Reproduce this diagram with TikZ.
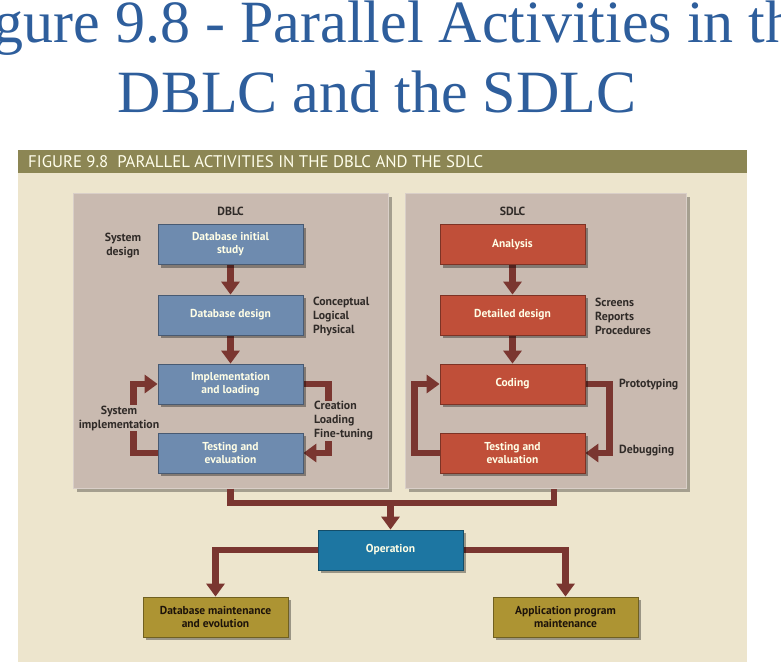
\documentclass[tikz,border=0pt]{standalone}
\usepackage{fontspec}
\setmainfont{Liberation Serif}
\setsansfont{PT Sans}
\usepackage{xcolor}
\usetikzlibrary{arrows.meta,shadows}

\definecolor{titleblue}{HTML}{2E5E9C}
\definecolor{barolive}{HTML}{8C8654}
\definecolor{cream}{HTML}{EDE5CD}
\definecolor{panelgray}{HTML}{C9BAB0}
\definecolor{dbblue}{HTML}{6E8BAF}
\definecolor{sdred}{HTML}{C04F39}
\definecolor{opteal}{HTML}{1D76A2}
\definecolor{mtgold}{HTML}{AD9433}
\definecolor{flowred}{HTML}{7A3630}
\definecolor{notegray}{HTML}{302B28}

\pgfdeclarelayer{bg}
\pgfdeclarelayer{mid}
\pgfsetlayers{bg,mid,main}

\tikzset{
  panel/.style={fill=panelgray, draw=panelgray!70!white, line width=1pt,
    drop shadow={shadow xshift=4pt, shadow yshift=-4pt, fill=black, opacity=.3}},
  box/.style={minimum width=145, minimum height=40, align=center, inner sep=2pt,
    font=\sffamily\bfseries\fontsize{11.5}{13}\selectfont, text=white!90!yellow,
    line width=.8pt,
    drop shadow={shadow xshift=3pt, shadow yshift=-3pt, fill=black, opacity=.35}},
  dbbox/.style={box, fill=dbblue, draw=dbblue!65!black},
  sdbox/.style={box, fill=sdred, draw=sdred!65!black},
  opbox/.style={box, fill=opteal, draw=opteal!65!black},
  mtbox/.style={box, fill=mtgold, draw=mtgold!65!black, text=black!85!brown},
  note/.style={font=\sffamily\bfseries\fontsize{11.8}{14}\selectfont, text=notegray, inner sep=0pt},
  link/.style={draw=flowred, line width=6.5pt},
  flow/.style={link, -{Triangle[width=18pt,length=13pt]}}
}

\begin{document}
\begin{tikzpicture}[x=1pt,y=-1pt]
\useasboundingbox (0,0) rectangle (781,662);

% title
\node[anchor=base, font=\fontsize{60}{72}\selectfont, text=titleblue] (ttl1) at (383,42) {Figure 9.8 - Parallel Activities in the};
\node[anchor=base, font=\fontsize{60}{72}\selectfont, text=titleblue] (ttl2) at (377,112) {DBLC and the SDLC};

% frame
\begin{pgfonlayer}{bg}
\fill[barolive] (18,150) rectangle (747,173);
\fill[cream] (18,173) rectangle (747,662);
\node[panel, minimum width=315, minimum height=295] (dblc) at (230.5,340.5) {};
\node[panel, minimum width=281, minimum height=295] (sdlc) at (545.5,340.5) {};
\end{pgfonlayer}
\node[anchor=west, font=\sffamily\fontsize{16.8}{18}\selectfont, text=white!92!yellow, inner sep=0pt] (bar) at (28,162)
  {FIGURE 9.8\ \ PARALLEL ACTIVITIES IN THE DBLC AND THE SDLC};
\node[note] (dblct) at (230.5,211) {DBLC};
\node[note] (sdlct) at (512.5,211) {SDLC};

% DBLC side
\node[dbbox] (dis) at (230.5,244.5) {Database initial\\study};
\node[dbbox] (dd)  at (230.5,315) {Database design};
\node[dbbox] (il)  at (230.5,384) {Implementation\\and loading};
\node[dbbox] (te)  at (230.5,453) {Testing and\\evaluation};

% SDLC side
\node[sdbox] (an)  at (512.5,244.5) {Analysis};
\node[sdbox] (det) at (512.5,315) {Detailed design};
\node[sdbox] (cod) at (512.5,384) {Coding};
\node[sdbox] (tes) at (512.5,453) {Testing and\\evaluation};

% after both cycles
\node[opbox] (op)  at (390.5,550) {Operation};
\node[mtbox] (dbm) at (215.5,617) {Database maintenance\\and evolution};
\node[mtbox] (apm) at (565.5,617) {Application program\\maintenance};

\begin{pgfonlayer}{mid}
\draw[flow] (dis) -- (dd);
\draw[flow] (dd) -- (il);
\draw[flow] (te.west) -- ++(-24,0) |- (il.west);
\draw[flow] (il.east) -- ++(25,0) |- (te.east);

\draw[flow] (an) -- (det);
\draw[flow] (det) -- (cod);
\draw[flow] (cod.east) -- ++(24,0) |- (tes.east);
\draw[flow] (tes.west) -- ++(-25,0) |- (cod.west);

\coordinate (join) at (390.5,503);
\draw[link] (dblc.south) |- (join) -| ([xshift=8.5pt]sdlc.south);
\draw[flow] (join) -- (op.north);
\draw[flow] (op.west) -| (dbm.north);
\draw[flow] (op.east) -| (apm.north);

\node[note, align=center] (sysd) at (123,246) {System\\design};
\node[note, align=left, anchor=west] (model) at (313,316) {Conceptual\\Logical\\Physical};
\node[note, align=center, fill=panelgray, inner sep=1pt] (sysi) at (119,418) {System\\implementation};
\node[note, align=left, anchor=west, fill=panelgray, inner sep=1pt] (load) at (313,421) {Creation\\Loading\\Fine-tuning};
\node[note, align=left, anchor=west] (rep) at (595,316) {Screens\\Reports\\Procedures};
\node[note, anchor=west] (proto) at (619,385) {Prototyping};
\node[note, anchor=west] (debug) at (619,451) {Debugging};
\end{pgfonlayer}
\end{tikzpicture}
\end{document}
